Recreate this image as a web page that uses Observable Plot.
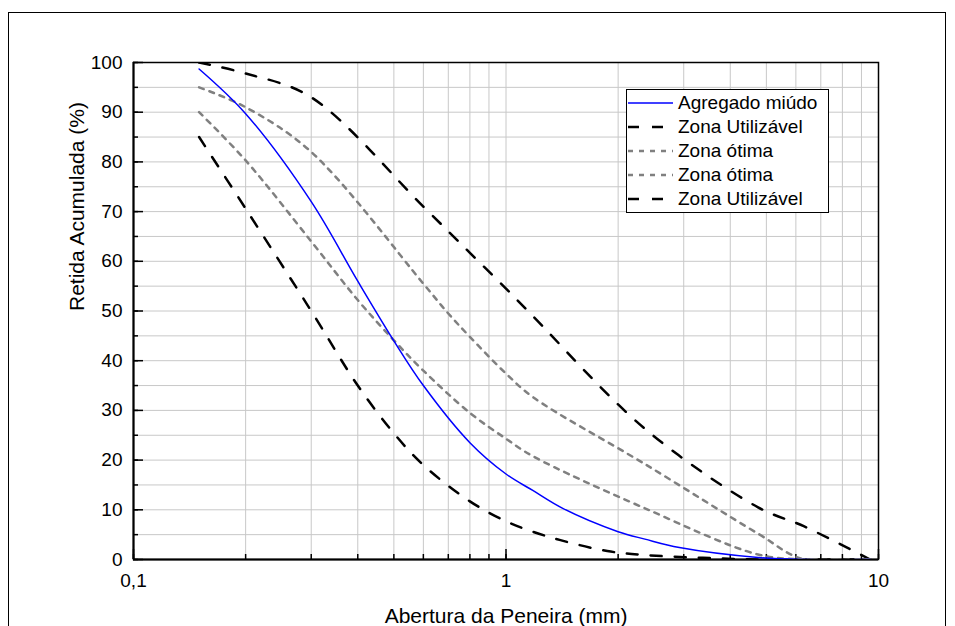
<!DOCTYPE html>
<html><head><meta charset="utf-8">
<script src="https://cdn.jsdelivr.net/npm/d3@7"></script>
<script src="https://cdn.jsdelivr.net/npm/@observablehq/plot@0.6"></script>
<style>
body{margin:0;background:#fff;overflow:hidden;font-family:"Liberation Sans",Arial,sans-serif;}
#wrap{position:relative;width:955px;height:626px;overflow:hidden;}
#border{position:absolute;left:8px;top:12px;width:938px;height:700px;border:1px solid #000;box-sizing:border-box;}
#chart{position:absolute;left:0;top:0;}
#legend{position:absolute;left:626px;top:89px;width:203px;height:124px;border:1px solid #000;box-sizing:border-box;background:#fff;}
.row{position:absolute;left:1px;height:24px;display:flex;align-items:center;font-size:19px;color:#000;white-space:nowrap;}
.row svg{margin-right:5px;}
</style></head><body>
<div id="wrap"><div id="border"></div><div id="chart"></div><div id="legend"></div></div>
<script>
// Abertura (mm) and Retida acumulada (%), per series
const agregadoX   = [0.15, 0.2, 0.3, 0.4, 0.5, 0.6, 0.8, 1, 1.18, 1.42, 2, 2.36, 2.92, 4.75, 6.3, 9.5];
const agregadoY   = [98.7, 89.7, 72, 56, 44, 35, 23.5, 17.2, 13.9, 10.3, 5.6, 4.1, 2.4, 0.4, 0, 0];
const utilSupX    = [0.15, 0.2, 0.3, 0.6, 0.8, 1, 1.18, 2.36, 4.75, 6.3, 9.5];
const utilSupY    = [100, 97.8, 93, 71, 61.7, 54.5, 49, 26.3, 10.5, 6.7, 0];
const otimaSupX   = [0.15, 0.2, 0.3, 0.6, 0.7, 0.8, 1, 1.18, 2.36, 4.75, 6.3, 9.5];
const otimaSupY   = [95, 91, 82, 55.5, 49.5, 44.8, 37.4, 32.7, 19.2, 5.2, 0, 0];
const otimaInfX   = [0.15, 0.2, 0.3, 0.4, 0.5, 0.6, 0.8, 1, 1.18, 2.36, 4.75, 6.3, 9.5];
const otimaInfY   = [90, 80.3, 64, 52.2, 44.1, 38, 29.5, 24.3, 20.8, 10.3, 1.0, 0, 0];
const utilInfX    = [0.15, 0.2, 0.3, 0.4, 0.5, 0.6, 0.8, 1, 1.18, 1.4, 1.87, 2.36, 4.75, 6.3, 9.5];
const utilInfY    = [85, 70.6, 50, 35, 25.4, 19, 11.7, 7.7, 5.6, 3.9, 1.7, 0.9, 0, 0, 0];

const seriesNames = ["Agregado miúdo", "Zona Utilizável", "Zona ótima", "Zona ótima", "Zona Utilizável"];
const seriesXs = [agregadoX, utilSupX, otimaSupX, otimaInfX, utilInfX];
const seriesYs = [agregadoY, utilSupY, otimaSupY, otimaInfY, utilInfY];

const xDomain = [0.1, 10];
const yDomain = [0, 100];
const xTickValues = [0.1, 1, 10];
const xTickLabels = ["0,1", "1", "10"];
const yTickValues = [0, 10, 20, 30, 40, 50, 60, 70, 80, 90, 100];
const yTickLabels = ["0", "10", "20", "30", "40", "50", "60", "70", "80", "90", "100"];
const yMinorStep = 5;
const xTitle = "Abertura da Peneira (mm)";
const yTitle = "Retida Acumulada (%)";

const rows = seriesXs.flatMap((xs, k) => xs.map((s, i) => ({serie: k, x: s, y: seriesYs[k][i]})));

const styles = [
  {stroke: "#0000ff", strokeWidth: 1.5, dash: null},
  {stroke: "#000000", strokeWidth: 2.5, dash: "11,13"},
  {stroke: "#808080", strokeWidth: 2.5, dash: "5,6"},
  {stroke: "#808080", strokeWidth: 2.5, dash: "5,6"},
  {stroke: "#000000", strokeWidth: 2.5, dash: "11,13"}
];

const W = 955, H = 626, mL = 133, mR = 77, mT = 62, mB = 67;
const plotW = W - mL - mR, plotH = H - mT - mB;

const xGridTicks = d3.scaleLog().domain(xDomain).ticks();
const yGridTicks = d3.range(yDomain[0], yDomain[1] + 0.001, yMinorStep);

const drawOrder = [1, 4, 2, 3, 0];
const lineMarks = drawOrder.map(k => Plot.line(rows.filter(d => d.serie === k), {
  x: "x", y: "y", curve: "catmull-rom", clip: true,
  stroke: styles[k].stroke, strokeWidth: styles[k].strokeWidth,
  strokeDasharray: styles[k].dash
}));

const chart = Plot.plot({
  width: W, height: H,
  marginLeft: mL, marginRight: mR, marginTop: mT, marginBottom: mB,
  style: {fontFamily: "'Liberation Sans', Arial, sans-serif", fontSize: "19px", color: "#000", background: "transparent"},
  x: {type: "log", domain: xDomain},
  y: {domain: yDomain},
  marks: [
    Plot.gridX(xGridTicks, {stroke: "#c8c8c8", strokeOpacity: 1, strokeWidth: 1}),
    Plot.gridY(yGridTicks, {stroke: "#c8c8c8", strokeOpacity: 1, strokeWidth: 1}),
    // inward ticks
    Plot.tickY(yGridTicks, {y: d => d, insetRight: plotW - 5, stroke: "#000", strokeWidth: 1.5}),
    Plot.tickY(yTickValues, {y: d => d, insetRight: plotW - 10, stroke: "#000", strokeWidth: 1.5}),
    Plot.tickX(xGridTicks, {x: d => d, insetTop: plotH - 5, stroke: "#000", strokeWidth: 1.5}),
    Plot.tickX(xTickValues, {x: d => d, insetTop: plotH - 10, stroke: "#000", strokeWidth: 1.5}),
    Plot.frame({stroke: "#000", strokeWidth: 1.5}),
    Plot.ruleX([xDomain[0]], {stroke: "#000", strokeWidth: 2}),
    Plot.ruleY([yDomain[0]], {stroke: "#000", strokeWidth: 2}),
    Plot.axisX(xTickValues, {tickSize: 0, tickPadding: 14, fontSize: 19, label: null,
      tickFormat: d => xTickLabels[xTickValues.indexOf(d)]}),
    Plot.axisY(yTickValues, {tickSize: 0, tickPadding: 11, fontSize: 19, label: null,
      tickFormat: d => yTickLabels[yTickValues.indexOf(d)]}),
    ...lineMarks,
    Plot.text([xTitle], {text: d => d, frameAnchor: "bottom", dy: 57, fontSize: 21, lineAnchor: "middle", fill: "#000"}),
    Plot.text([yTitle], {text: d => d, frameAnchor: "left", dx: -56, rotate: -90, fontSize: 21, lineAnchor: "middle", fill: "#000"})
  ]
});
document.getElementById("chart").appendChild(chart);

// Legend
const legend = document.getElementById("legend");
seriesNames.forEach((name, k) => {
  const row = document.createElement("div");
  row.className = "row";
  row.style.top = (1 + 24 * k) + "px";
  const st = styles[k];
  row.innerHTML = `<svg width="45" height="24"><line x1="0" x2="45" y1="12" y2="12" stroke="${st.stroke}" stroke-width="${st.strokeWidth}" ${st.dash ? `stroke-dasharray="${st.dash}"` : ""}/></svg><span>${name}</span>`;
  legend.appendChild(row);
});
</script>
</body></html>
